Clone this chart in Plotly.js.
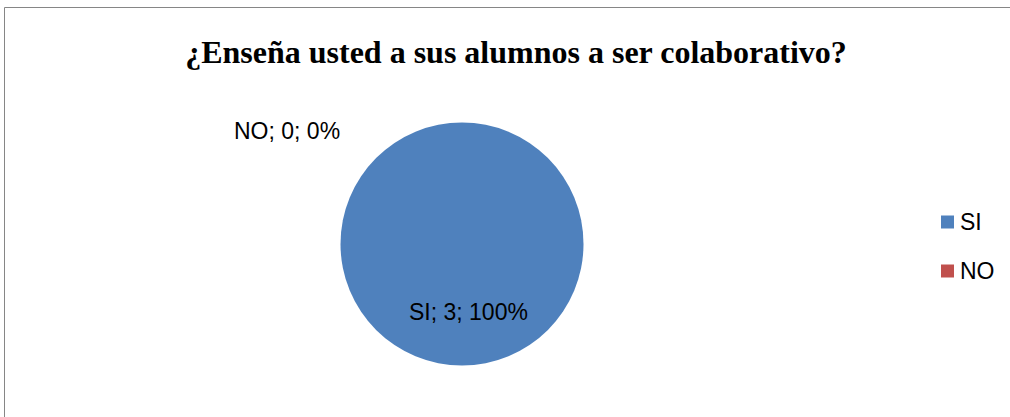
<!DOCTYPE html>
<html>
<head>
<meta charset="utf-8">
<script src="https://cdn.plot.ly/plotly-3.0.1.min.js"></script>
<style>
html,body{margin:0;padding:0;background:#fff;}
#chart{width:1010px;height:417px;}
</style>
</head>
<body>
<div id="chart"></div>
<script>
const categories = ["SI", "NO"];
const values = [3, 0];
const colors = ["#4F81BD", "#C0504D"];
const chartTitle = "¿Enseña usted a sus alumnos a ser colaborativo?";

const total = values.reduce((a, b) => a + b, 0);
const labelText = categories.map((c, i) =>
  c + "; " + values[i] + "; " + Math.round(100 * values[i] / total) + "%");

const W = 1010, H = 417;
const cx = 462, cy = 244, r = 121.5;
const px = x => x / W, py = y => 1 - y / H;

const trace = {
  type: "pie",
  labels: categories,
  values: values,
  marker: { colors: colors, line: { width: 0 } },
  sort: false,
  direction: "clockwise",
  rotation: 0,
  textinfo: "none",
  hoverinfo: "label+value+percent",
  showlegend: false,
  domain: {
    x: [px(cx - r), px(cx + r)],
    y: [py(cy + r), py(cy - r)]
  }
};

const labelFont = { family: "Liberation Sans, Arial, sans-serif", size: 23, color: "#000" };
const labelPos = [[468, 312], [287, 131]];
const annotations = categories.map((c, i) => ({
  xref: "paper", yref: "paper",
  x: px(labelPos[i][0]), y: py(labelPos[i][1]),
  xanchor: "center", yanchor: "middle",
  text: labelText[i], showarrow: false,
  font: labelFont
}));

// legend (manual, to match entry spacing)
const legX = 941, legY0 = 222, legStep = 49, sw = 13;
const shapes = [{
  type: "rect", xref: "paper", yref: "paper",
  x0: px(4.5), x1: 1.02, y0: -0.02, y1: py(7.5),
  line: { color: "#868686", width: 1 }
}];
categories.forEach((c, i) => {
  const yc = legY0 + i * legStep;
  shapes.push({
    type: "rect", xref: "paper", yref: "paper",
    x0: px(legX), x1: px(legX + sw), y0: py(yc + sw / 2), y1: py(yc - sw / 2),
    fillcolor: colors[i], line: { width: 0 }
  });
  annotations.push({
    xref: "paper", yref: "paper",
    x: px(legX + sw + 4), y: py(yc),
    xanchor: "left", yanchor: "middle",
    text: c, showarrow: false,
    font: { family: "Liberation Sans, Arial, sans-serif", size: 23, color: "#000" }
  });
});

const layout = {
  width: W, height: H,
  margin: { l: 0, r: 0, t: 0, b: 0 },
  paper_bgcolor: "#fff",
  title: {
    text: "<b>" + chartTitle + "</b>",
    x: px(516), xanchor: "center",
    y: py(52), yanchor: "middle",
    font: { family: "Liberation Serif, Times New Roman, serif", size: 32, color: "#000" }
  },
  showlegend: false,
  annotations: annotations,
  shapes: shapes
};

Plotly.newPlot("chart", [trace], layout, { displayModeBar: false, staticPlot: true });
</script>
</body>
</html>
